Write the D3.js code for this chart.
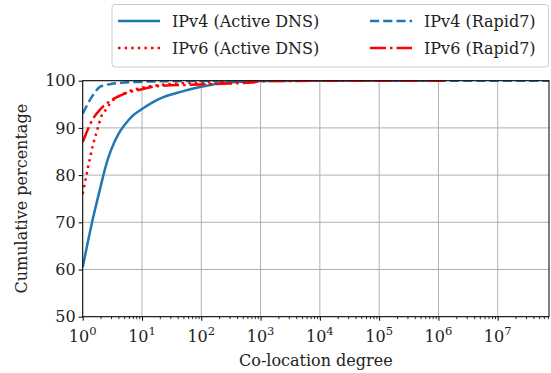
<!DOCTYPE html>
<html>
<head>
<meta charset="utf-8">
<script src="https://cdn.jsdelivr.net/npm/d3@7"></script>
<style>
body{margin:0;background:#fff}
svg text{font-family:"DejaVu Serif",serif;fill:#222}
</style>
</head>
<body>
<svg id="chart"></svg>
<script>
// values: [degree, cumulative %]
var ipv4Active = [[1,60.5],[1.5,71],[2,77.5],[2.5,82.3],[3,85.3],[4,88.7],[5,90.5],[7,92.6],[10,94],[20,96.2],[50,97.8],[100,98.7],[200,99.4],[500,99.8],[1000,99.95],[5000,100],[1e6,100]];
var ipv4Rapid7 = [[1,93],[1.5,97],[2,98.8],[3,99.3],[5,99.6],[10,99.8],[100,99.95],[1000,100],[7.3e7,100]];
var ipv6Active = [[1,76],[1.2,81],[1.5,86.5],[1.8,90],[2,92],[2.5,94],[3,95.4],[5,97.3],[10,98.5],[20,99.1],[100,99.6],[500,99.85],[1000,100],[1e5,100]];
var ipv6Rapid7 = [[1,87],[1.5,92],[2,94],[3,95.8],[5,97.2],[10,98.2],[20,98.9],[100,99.2],[300,99.4],[700,99.6],[1000,99.9],[1e4,99.97],[1.4e6,100]];

var xTicks = [1,10,100,1e3,1e4,1e5,1e6,1e7];
var yTicks = [50,60,70,80,90,100];

var series = [
  {name:'IPv4 (Active DNS)', data:ipv4Active, color:'#1f77b4', dash:null},
  {name:'IPv6 (Active DNS)', data:ipv6Active, color:'red', dash:'2.5,4.1'},
  {name:'IPv4 (Rapid7)', data:ipv4Rapid7, color:'#1f77b4', dash:'9.2,4'},
  {name:'IPv6 (Rapid7)', data:ipv6Rapid7, color:'red', dash:'16,4,2.5,4'}
];

var W=551,H=373;
var pLeft=82.7,pRight=549,pTop=80.7,pBottom=316.7;

var svg=d3.select('#chart').attr('width',W).attr('height',H);

var xScale=d3.scaleLog().domain([1,Math.pow(10,7.865)]).range([pLeft,pRight]);
var yScale=d3.scaleLinear().domain([50,100]).range([pBottom,pTop]);

// grid
svg.append('g').selectAll('line').data(xTicks).enter().append('line')
   .attr('x1',d=>xScale(d)).attr('x2',d=>xScale(d))
   .attr('y1',pTop).attr('y2',pBottom)
   .attr('stroke','#b0b0b0').attr('stroke-width',1);
svg.append('g').selectAll('line').data(yTicks).enter().append('line')
   .attr('x1',pLeft).attr('x2',pRight)
   .attr('y1',d=>yScale(d)).attr('y2',d=>yScale(d))
   .attr('stroke','#b0b0b0').attr('stroke-width',1);

svg.append('clipPath').attr('id','clip').append('rect')
   .attr('x',pLeft).attr('y',pTop).attr('width',pRight-pLeft).attr('height',pBottom-pTop);

var line=d3.line().x(d=>xScale(d[0])).y(d=>yScale(d[1])).curve(d3.curveMonotoneX);

svg.append('g').attr('clip-path','url(#clip)')
   .selectAll('path').data(series).enter().append('path')
   .attr('d',d=>line(d.data))
   .attr('fill','none')
   .attr('stroke',d=>d.color)
   .attr('stroke-width',2.5)
   .attr('stroke-dasharray',d=>d.dash);

// axes
var minor=[];
for(var e=0;e<8;e++){for(var k=2;k<10;k++){var v=k*Math.pow(10,e);if(v<xScale.domain()[1])minor.push(v);}}

var xAxis=d3.axisBottom(xScale).tickValues(xTicks).tickSize(4).tickFormat('');
var gx=svg.append('g').attr('transform','translate(0,'+pBottom+')').call(xAxis);
gx.select('.domain').remove();
gx.selectAll('.tick line').attr('stroke','#000').attr('stroke-width',1);
svg.append('g').attr('transform','translate(0,'+pBottom+')')
   .call(d3.axisBottom(xScale).tickValues(minor).tickSize(2.5).tickFormat(''))
   .call(g=>g.select('.domain').remove())
   .selectAll('.tick line').attr('stroke','#000').attr('stroke-width',0.8);

var labels=svg.append('g').selectAll('text').data(xTicks).enter().append('text')
   .attr('x',d=>xScale(d)).attr('y',pBottom+25)
   .attr('text-anchor','middle').style('font-size','16px');
labels.append('tspan').text('10');
labels.append('tspan').attr('dy',-7).style('font-size','11.5px').text(d=>Math.round(Math.log10(d)));

var yAxis=d3.axisLeft(yScale).tickValues(yTicks).tickSize(4).tickPadding(3);
var gy=svg.append('g').attr('transform','translate('+pLeft+',0)').call(yAxis);
gy.select('.domain').remove();
gy.selectAll('.tick line').attr('stroke','#000');
gy.selectAll('text').style('font-size','16px').attr('font-family','DejaVu Serif').attr('fill','#222');

svg.append('rect').attr('x',pLeft).attr('y',pTop).attr('width',pRight-pLeft).attr('height',pBottom-pTop)
   .attr('fill','none').attr('stroke','#000').attr('stroke-width',1);

svg.append('text').attr('x',(pLeft+pRight)/2).attr('y',366).attr('text-anchor','middle')
   .style('font-size','16px').text('Co-location degree');
svg.append('text').attr('transform','translate(27,'+((pTop+pBottom)/2)+') rotate(-90)')
   .attr('text-anchor','middle').style('font-size','16px').text('Cumulative percentage');

// legend
var lg=svg.append('g');
lg.append('rect').attr('x',112).attr('y',4.5).attr('width',436.5).attr('height',62.5).attr('rx',3)
  .attr('fill','#fff').attr('fill-opacity',0.8).attr('stroke','#cccccc').attr('stroke-width',1);
var items=lg.selectAll('g').data(series).enter().append('g')
  .attr('transform',(d,i)=>'translate('+(i<2?118:370)+','+(i%2?48:21)+')');
items.append('line').attr('x1',0).attr('x2',42).attr('y1',0).attr('y2',0)
  .attr('stroke',d=>d.color).attr('stroke-width',2.5).attr('stroke-dasharray',d=>d.dash);
items.append('text').attr('x',54).attr('y',6).style('font-size','16px').text(d=>d.name);
</script>
</body>
</html>
